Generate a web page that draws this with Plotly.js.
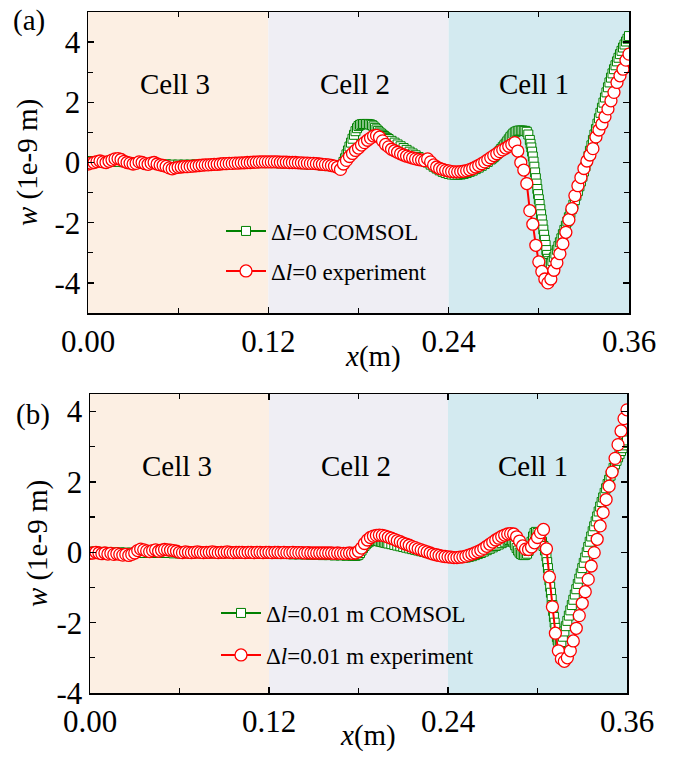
<!DOCTYPE html>
<html>
<head>
<meta charset="utf-8">
<script src="https://cdn.plot.ly/plotly-3.0.1.min.js"></script>
<style>html,body{margin:0;padding:0;background:#fff;}#chart{width:674px;height:757px;}</style>
</head>
<body>
<div id="chart"></div>
<script>
// ---------- data ----------
const xExp = [
0,0.002,0.004,0.006,0.008,0.01,0.012,0.014,0.016,0.018,
0.02,0.022,0.024,0.026,0.028,0.03,0.032,0.034,0.036,0.038,
0.04,0.042,0.044,0.046,0.048,0.05,0.052,0.054,0.056,0.058,
0.06,0.062,0.064,0.066,0.068,0.07,0.072,0.074,0.076,0.078,
0.08,0.082,0.084,0.086,0.088,0.09,0.092,0.094,0.096,0.098,
0.1,0.102,0.104,0.106,0.108,0.11,0.112,0.114,0.116,0.118,
0.12,0.122,0.124,0.126,0.128,0.13,0.132,0.134,0.136,0.138,
0.14,0.142,0.144,0.146,0.148,0.15,0.152,0.154,0.156,0.158,
0.16,0.162,0.164,0.166,0.168,0.17,0.172,0.174,0.176,0.178,
0.18,0.182,0.184,0.186,0.188,0.19,0.192,0.194,0.196,0.198,
0.2,0.202,0.204,0.206,0.208,0.21,0.212,0.214,0.216,0.218,
0.22,0.222,0.224,0.226,0.228,0.23,0.232,0.234,0.236,0.238,
0.24,0.242,0.244,0.246,0.248,0.25,0.252,0.254,0.256,0.258,
0.26,0.262,0.264,0.266,0.268,0.27,0.272,0.274,0.276,0.278,
0.28,0.282,0.284,0.286,0.288,0.29,0.292,0.294,0.296,0.298,
0.3,0.302,0.304,0.306,0.308,0.31,0.312,0.314,0.316,0.318,
0.32,0.322,0.324,0.326,0.328,0.33,0.332,0.334,0.336,0.338,
0.34,0.342,0.344,0.346,0.348,0.35,0.352,0.354,0.356,0.358,
0.36];

// panel (a) experiment, w in 1e-9 m
const yExpA = [
-0.05,-0.02,0.0,0.03,0.05,0.02,0.0,0.04,0.08,0.12,
0.13,0.1,0.04,0.0,-0.02,-0.05,-0.03,0.02,0.0,-0.04,
-0.06,-0.02,0.0,-0.05,-0.08,-0.1,-0.13,-0.18,-0.21,-0.18,
-0.16,-0.15,-0.14,-0.14,-0.13,-0.12,-0.11,-0.1,-0.09,-0.08,
-0.08,-0.07,-0.06,-0.06,-0.05,-0.04,-0.04,-0.03,-0.03,-0.02,
-0.02,-0.01,-0.01,0.0,0.0,0.01,0.01,0.02,0.02,0.02,
0.02,0.02,0.02,0.02,0.01,0.01,0.01,0.0,0.0,0.0,
-0.01,-0.01,-0.02,-0.02,-0.03,-0.03,-0.04,-0.05,-0.06,-0.07,
-0.08,-0.1,-0.12,-0.16,-0.23,-0.05,0.07,0.2,0.3,0.4,
0.48,0.58,0.66,0.74,0.81,0.88,0.9,0.84,0.72,0.6,
0.52,0.44,0.39,0.34,0.29,0.25,0.21,0.18,0.15,0.12,
0.1,0.08,0.06,0.12,0.02,-0.08,-0.15,-0.2,-0.23,-0.26,
-0.28,-0.3,-0.31,-0.31,-0.3,-0.29,-0.27,-0.24,-0.2,-0.15,
-0.1,-0.04,0.02,0.09,0.16,0.23,0.29,0.36,0.42,0.48,
0.54,0.6,0.66,0.38,0.0,-0.25,-0.7,-1.6,-2.05,-2.75,
-3.3,-3.62,-3.87,-4.0,-3.87,-3.58,-3.33,-3.03,-2.7,-2.32,
-1.9,-1.53,-1.1,-0.77,-0.5,-0.2,0.05,0.25,0.46,0.85,
1.08,1.28,1.52,1.78,2.05,2.33,2.66,2.88,3.1,3.4,
3.6];

// panel (b) experiment
const yExpB = [
-0.03,-0.02,0.0,-0.02,-0.04,-0.02,-0.05,-0.03,-0.06,-0.04,
-0.06,-0.08,-0.06,-0.09,-0.06,-0.02,0.05,0.09,0.07,0.04,
0.02,0.05,0.07,0.03,0.06,0.08,0.07,0.06,0.05,0.03,
0.0,-0.01,0.01,0.0,-0.01,0.0,0.01,0.0,-0.01,0.0,
0.0,0.01,0.0,-0.01,0.0,0.0,0.01,0.0,-0.01,0.0,
0.0,0.0,-0.01,0.0,0.0,-0.01,0.0,0.0,-0.01,0.0,
0.0,-0.01,0.0,0.0,-0.01,0.0,-0.01,-0.01,0.0,-0.01,
-0.01,-0.01,-0.02,-0.01,-0.02,-0.02,-0.02,-0.02,-0.02,-0.02,
-0.02,-0.02,-0.03,-0.02,-0.03,-0.03,-0.03,-0.02,-0.03,-0.02,
0.03,0.12,0.25,0.35,0.42,0.46,0.48,0.49,0.48,0.46,
0.43,0.4,0.37,0.33,0.3,0.26,0.23,0.2,0.16,0.13,
0.1,0.07,0.04,0.01,-0.02,-0.05,-0.07,-0.09,-0.11,-0.12,
-0.13,-0.14,-0.15,-0.15,-0.14,-0.13,-0.11,-0.08,-0.05,-0.02,
0.02,0.06,0.11,0.17,0.23,0.29,0.35,0.4,0.45,0.49,
0.52,0.53,0.52,0.44,0.32,0.18,0.09,0.08,0.15,0.27,
0.42,0.56,0.65,0.1,-0.7,-1.55,-2.3,-2.8,-3.03,-3.1,
-3.0,-2.8,-2.52,-2.16,-1.8,-1.45,-1.12,-0.77,-0.39,-0.01,
0.37,0.75,1.13,1.5,1.88,2.28,2.67,3.06,3.45,3.8,
4.05];

// panel (a) COMSOL
const xComA = [
0,0.004,0.008,0.012,0.016,0.02,0.024,0.028,0.032,0.036,
0.04,0.044,0.048,0.052,0.056,0.06,0.064,0.068,0.072,0.076,
0.08,0.084,0.088,0.092,0.096,0.1,0.104,0.108,0.112,0.116,
0.12,0.124,0.128,0.132,0.136,0.14,0.144,0.148,0.152,0.156,
0.16,0.164,
0.165,0.166,0.167,0.168,0.169,0.17,0.171,0.172,0.173,0.174,
0.175,0.176,0.177,0.178,0.179,0.18,0.181,0.182,0.183,0.184,
0.185,0.186,0.187,0.188,0.189,0.19,0.191,0.192,0.193,0.194,
0.195,0.196,0.197,0.198,0.199,0.2,
0.202,0.204,0.206,0.208,0.21,0.212,0.214,0.216,0.218,0.22,
0.222,0.224,0.226,0.228,0.23,0.232,0.234,0.236,0.238,0.24,
0.242,0.244,0.246,0.248,0.25,0.252,0.254,0.256,0.258,0.26,
0.262,0.264,0.266,0.268,
0.269,0.27,0.271,0.272,0.273,0.274,0.275,0.276,0.277,0.278,
0.279,0.28,0.281,0.282,0.283,0.284,0.285,0.286,0.287,0.288,
0.289,0.29,0.291,0.292,0.293,0.294,
0.2945,0.295,0.2955,0.296,0.2965,0.297,0.2975,0.298,0.2985,0.299,
0.2995,0.3,0.3005,0.301,0.3015,0.302,0.3025,0.303,0.3035,0.304,
0.3045,0.305,0.3055,0.306,0.3065,
0.307,0.308,0.309,0.31,0.311,0.312,0.313,0.314,0.315,0.316,
0.317,0.318,0.319,0.32,0.321,0.322,0.323,0.324,0.325,0.326,
0.327,0.328,0.329,0.33,0.331,0.332,0.333,0.334,0.335,0.336,
0.337,0.338,0.339,0.34,0.341,0.342,0.343,0.344,0.345,0.346,
0.347,0.348,0.349,0.35,0.351,0.352,0.353,0.354,0.355,0.356,
0.357,0.358,0.359,0.36];
const yComA = [
0.05,0.05,0.04,0.04,0.03,0.02,0.01,0.0,-0.01,-0.02,
-0.03,-0.04,-0.05,-0.06,-0.07,-0.07,-0.07,-0.07,-0.06,-0.06,
-0.05,-0.05,-0.04,-0.04,-0.03,-0.03,-0.02,-0.02,-0.02,-0.02,
-0.02,-0.02,-0.03,-0.03,-0.04,-0.05,-0.06,-0.07,-0.08,-0.1,
-0.12,-0.14,
-0.15,-0.16,-0.16,-0.14,-0.08,0.02,0.14,0.27,0.4,0.53,
0.66,0.79,0.92,1.04,1.14,1.21,1.25,1.27,1.28,1.28,
1.28,1.28,1.27,1.26,1.24,1.2,1.15,1.1,1.05,1.0,
0.96,0.92,0.88,0.84,0.81,0.78,
0.72,0.66,0.6,0.54,0.48,0.42,0.36,0.3,0.24,0.18,
0.12,0.06,0.0,-0.07,-0.14,-0.2,-0.26,-0.31,-0.35,-0.38,
-0.4,-0.41,-0.41,-0.4,-0.38,-0.35,-0.31,-0.27,-0.22,-0.17,
-0.11,-0.05,0.02,0.1,
0.14,0.18,0.23,0.28,0.33,0.39,0.45,0.51,0.57,0.63,
0.7,0.77,0.84,0.9,0.96,1.0,1.03,1.05,1.06,1.06,
1.06,1.05,1.05,1.02,0.93,0.75,
0.62,0.5,0.36,0.2,0.03,-0.14,-0.33,-0.52,-0.7,-0.88,
-1.05,-1.22,-1.38,-1.55,-1.72,-1.89,-2.06,-2.23,-2.4,-2.57,
-2.74,-2.91,-3.07,-3.2,-3.28,
-3.34,-3.36,-3.27,-3.15,-3.03,-2.9,-2.78,-2.65,-2.52,-2.38,
-2.24,-2.1,-1.96,-1.82,-1.68,-1.54,-1.4,-1.25,-1.1,-0.95,
-0.79,-0.63,-0.47,-0.3,-0.13,0.04,0.21,0.39,0.57,0.75,
0.93,1.11,1.29,1.47,1.65,1.82,1.99,2.16,2.33,2.5,
2.66,2.82,2.96,3.1,3.23,3.36,3.48,3.6,3.71,3.82,
3.92,4.02,4.11,4.2];

// panel (b) COMSOL
const xComB = [
0,0.004,0.008,0.012,0.016,0.02,0.024,0.028,0.032,0.036,
0.04,0.044,0.048,0.052,0.056,0.06,0.064,0.068,0.072,0.076,
0.08,0.084,0.088,0.092,0.096,0.1,0.104,0.108,0.112,0.116,
0.12,0.124,0.128,0.132,0.136,0.14,0.144,0.148,0.152,0.156,
0.16,0.164,0.168,0.172,0.176,
0.177,0.178,0.179,0.18,0.181,0.182,0.183,0.184,0.185,0.186,
0.187,0.188,0.189,0.19,0.191,0.192,0.193,0.194,0.195,0.196,
0.197,0.198,0.199,0.2,
0.202,0.204,0.206,0.208,0.21,0.212,0.214,0.216,0.218,0.22,
0.222,0.224,0.226,0.228,0.23,0.232,0.234,0.236,0.238,0.24,
0.242,0.244,0.246,0.248,0.25,0.252,0.254,0.256,0.258,0.26,
0.262,0.264,0.266,0.268,0.27,0.272,0.274,0.276,0.278,0.28,
0.281,0.282,0.283,0.284,0.285,0.286,0.287,0.288,0.289,0.29,
0.291,0.292,0.293,0.294,0.295,0.296,0.297,0.298,0.299,0.3,
0.301,0.302,0.303,0.304,0.305,0.306,
0.3065,0.307,0.3075,0.308,0.3085,0.309,0.3095,0.31,0.3105,0.311,
0.3115,0.312,0.3125,0.313,0.3135,0.314,
0.315,0.316,0.317,0.318,0.319,0.32,0.321,0.322,0.323,0.324,
0.325,0.326,0.327,0.328,0.329,0.33,0.331,0.332,0.333,0.334,
0.335,0.336,0.337,0.338,0.339,0.34,0.341,0.342,0.343,0.344,
0.345,0.346,0.347,0.348,0.349,0.35,0.351,0.352,0.353,0.354,
0.355,0.356,0.357,0.358,0.359,0.36];
const yComB = [
0.02,0.02,0.01,0.01,0.0,0.0,-0.01,-0.01,-0.02,-0.02,
-0.02,-0.02,-0.02,-0.02,-0.03,-0.03,-0.03,-0.03,-0.03,-0.03,
-0.03,-0.03,-0.03,-0.03,-0.03,-0.03,-0.03,-0.04,-0.04,-0.04,
-0.04,-0.05,-0.05,-0.05,-0.06,-0.06,-0.06,-0.07,-0.07,-0.08,
-0.08,-0.09,-0.09,-0.1,-0.1,
-0.1,-0.1,-0.09,-0.07,-0.02,0.05,0.12,0.18,0.23,0.27,
0.3,0.32,0.33,0.34,0.34,0.33,0.32,0.31,0.3,0.29,
0.28,0.27,0.26,0.25,
0.23,0.21,0.19,0.17,0.15,0.13,0.11,0.09,0.07,0.05,
0.03,0.01,-0.01,-0.03,-0.05,-0.07,-0.09,-0.1,-0.12,-0.13,
-0.14,-0.15,-0.16,-0.16,-0.16,-0.15,-0.13,-0.11,-0.08,-0.05,
-0.02,0.02,0.06,0.1,0.14,0.18,0.22,0.26,0.3,0.33,
0.35,0.36,0.34,0.28,0.2,0.12,0.05,-0.01,-0.05,-0.07,
-0.08,-0.07,-0.04,0.04,0.16,0.3,0.45,0.55,0.58,0.55,
0.48,0.4,0.3,0.18,0.05,-0.12,
-0.28,-0.45,-0.62,-0.8,-0.98,-1.15,-1.33,-1.5,-1.67,-1.84,
-2.0,-2.15,-2.29,-2.41,-2.5,-2.56,
-2.6,-2.55,-2.4,-2.25,-2.1,-1.95,-1.8,-1.65,-1.5,-1.35,
-1.2,-1.05,-0.9,-0.75,-0.6,-0.45,-0.3,-0.15,0.0,0.15,
0.3,0.45,0.6,0.74,0.88,1.02,1.16,1.3,1.43,1.56,
1.69,1.82,1.94,2.06,2.18,2.29,2.4,2.5,2.6,2.7,
2.79,2.88,2.96,3.04,3.11,3.18];

// cells (shaded regions) and labels
const cellEdges = [0, 0.12, 0.24, 0.36];
const cellNames = ['Cell 3', 'Cell 2', 'Cell 1'];
const cellLabelX = [0.058, 0.178, 0.297];
const cellColors = ['#fcefe3', '#efeef4', '#d3eaf0'];

const xTickVals = [0, 0.12, 0.24, 0.36];
const xTickText = ['0.00', '0.12', '0.24', '0.36'];
const yTickVals = [-4, -2, 0, 2, 4];
const yTickText = ['-4', '-2', '0', '2', '4'];

const seriesNames = [
  '\u0394<i>l</i>=0 COMSOL',
  '\u0394<i>l</i>=0 experiment',
  '\u0394<i>l</i>=0.01 m COMSOL',
  '\u0394<i>l</i>=0.01 m experiment'
];

// ---------- styling ----------
const FONT = 'Liberation Serif';
const GREEN = '#008000';
const RED = '#ff0000';
const W = 674, H = 757;

function comTrace(x, y, xa, ya, name, leg) {
  return {x: x, y: y, xaxis: xa, yaxis: ya, name: name, legend: leg,
    type: 'scatter', mode: 'lines+markers', cliponaxis: true,
    line: {color: GREEN, width: 2},
    marker: {symbol: 'square', size: 9, color: 'white', line: {color: GREEN, width: 1}}};
}
function expTrace(x, y, xa, ya, name, leg) {
  return {x: x, y: y, xaxis: xa, yaxis: ya, name: name, legend: leg,
    type: 'scatter', mode: 'lines+markers', cliponaxis: true,
    line: {color: RED, width: 2},
    marker: {symbol: 'circle', size: 12, color: 'white', line: {color: RED, width: 1.3}}};
}

const data = [
  comTrace(xComA, yComA, 'x', 'y', seriesNames[0], 'legend'),
  expTrace(xExp, yExpA, 'x', 'y', seriesNames[1], 'legend2'),
  comTrace(xComB, yComB, 'x2', 'y2', seriesNames[2], 'legend3'),
  expTrace(xExp, yExpB, 'x2', 'y2', seriesNames[3], 'legend4')
];

function xAxis(domain, anchor) {
  return {domain: domain, anchor: anchor, range: [0, 0.36],
    tickmode: 'array', tickvals: xTickVals, ticktext: xTickText,
    ticks: 'inside', ticklen: 6, tickwidth: 1.3, tickcolor: 'black',
    minor: {dtick: 0.06, tick0: 0, ticks: 'inside', ticklen: 5, tickwidth: 1.3, tickcolor: 'black'},
    showline: true, linecolor: 'black', linewidth: 1.5, mirror: 'allticks',
    showgrid: false, zeroline: false,
    tickfont: {family: FONT, size: 31, color: 'black'}};
}
function yAxis(domain, anchor, range, standoff) {
  return {domain: domain, anchor: anchor, range: range,
    tickmode: 'array', tickvals: yTickVals, ticktext: yTickText,
    ticks: 'inside', ticklen: 6, tickwidth: 1.3, tickcolor: 'black',
    minor: {dtick: 1, tick0: 0, ticks: 'inside', ticklen: 5, tickwidth: 1.3, tickcolor: 'black'},
    showline: true, linecolor: 'black', linewidth: 1.5, mirror: 'allticks',
    showgrid: false, zeroline: false,
    tickfont: {family: FONT, size: 31, color: 'black'},
    title: {text: '<i>w</i> (1e-9 m)', font: {family: FONT, size: 29, color: 'black'}, standoff: standoff}};
}

const shapes = [];
const annotations = [];
[['x', 'y'], ['x2', 'y2']].forEach(function (ax) {
  for (let i = 0; i < cellNames.length; i++) {
    shapes.push({type: 'rect', layer: 'below', xref: ax[0], yref: ax[1] + ' domain',
      x0: cellEdges[i], x1: cellEdges[i + 1], y0: 0, y1: 1,
      fillcolor: cellColors[i], line: {width: 0}});
    annotations.push({xref: ax[0], yref: ax[1] + ' domain', x: cellLabelX[i], y: 0.76,
      text: cellNames[i], showarrow: false, xanchor: 'center', yanchor: 'middle',
      font: {family: FONT, size: 29, color: 'black'}});
  }
});
annotations.push({xref: 'paper', yref: 'paper', x: 29 / W, y: 1 - 21 / H, text: '(a)', showarrow: false,
  xanchor: 'center', yanchor: 'middle', font: {family: FONT, size: 29, color: 'black'}});
annotations.push({xref: 'paper', yref: 'paper', x: 33 / W, y: 1 - 414 / H, text: '(b)', showarrow: false,
  xanchor: 'center', yanchor: 'middle', font: {family: FONT, size: 29, color: 'black'}});
annotations.push({xref: 'paper', yref: 'paper', x: 373 / W, y: 1 - 356 / H, text: '<i>x</i>(m)', showarrow: false,
  xanchor: 'center', yanchor: 'middle', font: {family: FONT, size: 29, color: 'black'}});
annotations.push({xref: 'paper', yref: 'paper', x: 368 / W, y: 1 - 735 / H, text: '<i>x</i>(m)', showarrow: false,
  xanchor: 'center', yanchor: 'middle', font: {family: FONT, size: 29, color: 'black'}});

function legendAt(px, py) {
  return {x: px / W, y: 1 - py / H, xanchor: 'left', yanchor: 'middle',
    bgcolor: 'rgba(0,0,0,0)', borderwidth: 0, itemwidth: 40,
    font: {family: FONT, size: 23, color: 'black'}};
}

const layout = {
  width: W, height: H, autosize: false,
  margin: {l: 0, r: 0, t: 0, b: 0, pad: 0},
  paper_bgcolor: 'white', plot_bgcolor: 'white',
  font: {family: FONT, size: 29, color: 'black'},
  showlegend: true,
  xaxis: xAxis([88 / W, 629 / W], 'y'),
  yaxis: yAxis([1 - 313 / H, 1 - 12 / H], 'x', [-5, 5], 8),
  xaxis2: xAxis([90 / W, 627 / W], 'y2'),
  yaxis2: yAxis([1 - 693 / H, 1 - 394 / H], 'x2', [-4, 4.5], 0),
  legend: legendAt(221, 231),
  legend2: legendAt(221, 271),
  legend3: legendAt(216, 613),
  legend4: legendAt(216, 655),
  shapes: shapes,
  annotations: annotations
};

Plotly.newPlot('chart', data, layout, {displayModeBar: false, staticPlot: true});
</script>
</body>
</html>
